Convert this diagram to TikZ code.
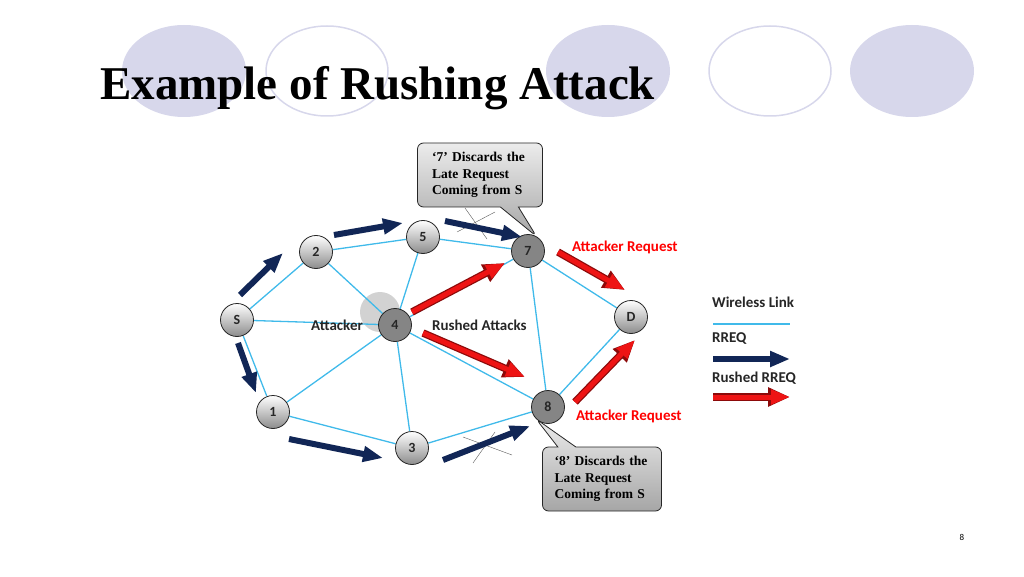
\documentclass[tikz,border=0pt]{standalone}
\usepackage{fontspec}
\setmainfont{Liberation Serif}
\newfontfamily\calibri{Carlito}
\usetikzlibrary{arrows.meta, positioning, shapes.callouts, backgrounds}

\definecolor{linkblue}{RGB}{64,186,234}
\definecolor{rreqnavy}{RGB}{17,38,86}
\definecolor{rushred}{RGB}{238,20,20}
\definecolor{rushedge}{RGB}{140,10,10}
\definecolor{lavender}{RGB}{215,215,235}

\begin{document}
\begin{tikzpicture}[
  x=1pt, y=-1pt,
  every node/.style={font=\calibri\bfseries},
  host/.style={circle, draw=gray!30!black, thick, minimum size=33pt, inner sep=0pt, font=\calibri\bfseries\fontsize{14}{14}\selectfont, text=black!85},
  lite/.style={host, top color=white, bottom color=black!45},
  dark/.style={host, fill=black!48},
  link/.style={linkblue, line width=1.3pt},
  rreq/.style={rreqnavy, line width=6pt, -{Triangle[length=20pt, width=15pt]}},
  rushed/.style={rushedge, line width=7.5pt, -{Triangle[length=22pt, width=18pt]}, postaction={draw=rushred, line width=5pt, -{Triangle[length=19pt, width=14pt]}}},
  note/.style={rectangle callout, rounded corners=6pt, draw=gray!30!black, thick, top color=gray!15, bottom color=gray!70, callout pointer width=18pt, align=left, inner xsep=13pt, text width=96pt, minimum height=64pt, font=\rmfamily\bfseries\fontsize{13.5}{16.5}\selectfont},
  lbl/.style={inner sep=0pt, font=\calibri\bfseries\fontsize{15}{16}\selectfont, text=black!85},
  redlbl/.style={lbl, text=red},
  cross/.style={gray!70!black, thin}
]
\useasboundingbox (0,0) rectangle (1024,577);

% network hosts
\node[lite] (s) at (237,320) {S};
\node[lite] (n2) at (316,252) {2};
\node[lite] (n5) at (423,237) {5};
\node[dark] (n7) at (528,251) {7};
\node[dark] (n4) at (395,325) {4};
\node[lite] (d) at (631,317) {D};
\node[lite] (n1) at (273,412) {1};
\node[lite] (n3) at (412,448) {3};
\node[dark] (n8) at (548,407) {8};

\begin{pgfonlayer}{background}
  \fill[lavender] (184,71) ellipse [x radius=62, y radius=46];
  \draw[lavender, line width=1.5pt] (327,71) ellipse [x radius=61, y radius=45];
  \fill[lavender] (608,71) ellipse [x radius=62, y radius=46];
  \draw[lavender, line width=1.5pt] (770,71) ellipse [x radius=61, y radius=45];
  \fill[lavender] (912,71) ellipse [x radius=62, y radius=46];
  \fill[gray!35] (380,312) circle (20);
  % wireless links
  \draw[link] (s) -- (n2);
  \draw[link] (s) -- (n4);
  \draw[link] (s) -- (n1);
  \draw[link] (n2) -- (n5);
  \draw[link] (n2) -- (n4);
  \draw[link] (n5) -- (n7);
  \draw[link] (n5) -- (n4);
  \draw[link] (n4) -- (n7);
  \draw[link] (n4) -- (n1);
  \draw[link] (n4) -- (n3);
  \draw[link] (n4) -- (n8);
  \draw[link] (n7) -- (d);
  \draw[link] (n7) -- (n8);
  \draw[link] (n8) -- (d);
  \draw[link] (n1) -- (n3);
  \draw[link] (n3) -- (n8);
\end{pgfonlayer}

\node[anchor=base west, inner sep=0pt, font=\rmfamily\bfseries\fontsize{47}{50}\selectfont] (title) at (100,100) {Example of Rushing Attack};

% late requests get crossed out
\draw[cross] (465,208) -- (487,239);
\draw[cross] (457,232) -- (495,212);
\draw[cross] (473,463) -- (495,432);
\draw[cross] (463,437) -- (512,455);

% RREQ from S
\coordinate (qa1) at (240,295); \coordinate (qb1) at (283,253);
\coordinate (qa2) at (334,235); \coordinate (qb2) at (403,223);
\coordinate (qa3) at (445,221); \coordinate (qb3) at (522,237);
\coordinate (qa4) at (238,343); \coordinate (qb4) at (256,393);
\coordinate (qa5) at (289,439); \coordinate (qb5) at (383,458);
\coordinate (qa6) at (443,460); \coordinate (qb6) at (530,426);
\draw[rreq] (qa1) -- (qb1);
\draw[rreq] (qa2) -- (qb2);
\draw[rreq] (qa3) -- (qb3);
\draw[rreq] (qa4) -- (qb4);
\draw[rreq] (qa5) -- (qb5);
\draw[rreq] (qa6) -- (qb6);

% rushed RREQ from the attacker
\coordinate (ra1) at (412,312); \coordinate (rb1) at (505,263);
\coordinate (ra2) at (423,333); \coordinate (rb2) at (525,377);
\coordinate (ra3) at (558,252); \coordinate (rb3) at (625,290);
\coordinate (ra4) at (575,402); \coordinate (rb4) at (635,340);
\draw[rushed] (ra1) -- (rb1);
\draw[rushed] (ra2) -- (rb2);
\draw[rushed] (ra3) -- (rb3);
\draw[rushed] (ra4) -- (rb4);

\node[lbl, left=15pt of n4] (attacker) {Attacker};
\node[lbl, right=20pt of n4] (rushedatk) {Rushed Attacks};
\node[redlbl, right=27pt of n7, yshift=4pt] (req7) {Attacker Request};
\node[redlbl, right=11pt of n8, yshift=-9pt] (req8) {Attacker Request};

\node[note, minimum width=125pt, callout absolute pointer={(n7.60)}] (note7) at (480,175) {‘7’ Discards the\\Late Request\\Coming from S};
\node[note, minimum width=119pt, inner xsep=12pt, text width=95pt, callout absolute pointer={(n8.225)}] (note8) at (602,479) {‘8’ Discards the\\Late Request\\Coming from S};

% legend
\node[lbl, anchor=west] (wl) at (712,302) {Wireless Link};
\coordinate (la1) at (713,324); \coordinate (lb1) at (790,324);
\draw[link] (la1) -- (lb1);
\node[lbl, anchor=west] (lrreq) at (712,339) {RREQ};
\coordinate (la2) at (713,359); \coordinate (lb2) at (790,359);
\draw[rreq] (la2) -- (lb2);
\node[lbl, anchor=west] (lrushed) at (712,378) {Rushed RREQ};
\coordinate (la3) at (713,397); \coordinate (lb3) at (790,397);
\draw[rushed] (la3) -- (lb3);

\node[font=\calibri\fontsize{9}{10}\selectfont] (page) at (962,537) {8};
\end{tikzpicture}
\end{document}
